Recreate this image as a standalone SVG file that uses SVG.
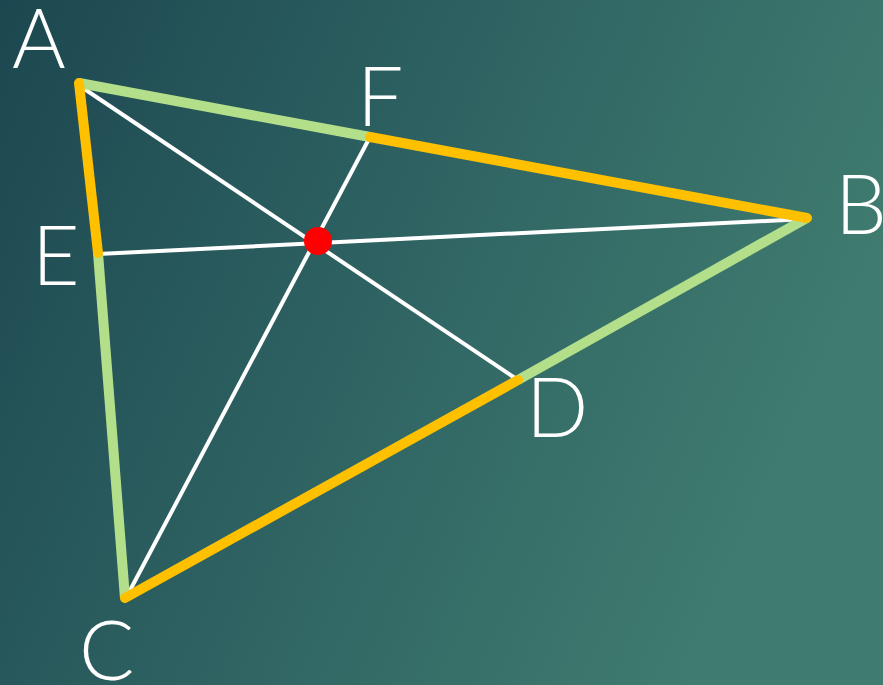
<svg xmlns="http://www.w3.org/2000/svg" width="883" height="685" viewBox="0 0 883 685">
<defs>
<linearGradient id="bg" x1="0" y1="0" x2="1" y2="0.35">
<stop offset="0" stop-color="#1c4750"/>
<stop offset="0.5" stop-color="#2e6262"/>
<stop offset="1" stop-color="#3f7b6f"/>
</linearGradient>
</defs>
<style>
.y{stroke:#FFC000;stroke-width:10;stroke-linecap:round;fill:none}
.g{stroke:#B4DF8A;stroke-width:10;stroke-linecap:butt;fill:none}
.w{stroke:#FFFFFF;stroke-width:4;fill:none}
.lbl{font-family:Lato,"Liberation Sans",sans-serif;font-weight:300;font-size:82px;fill:#FFFFFF}
</style>
<rect width="883" height="685" fill="url(#bg)"/>
<g id="connectors">
<line class="w" x1="80" y1="86" x2="518" y2="380"/>
<line class="w" x1="98" y1="254" x2="805" y2="219"/>
<line class="w" x1="127" y1="596" x2="370" y2="137"/>
<line class="g" x1="79" y1="83" x2="370" y2="137"/>
<line class="g" x1="98" y1="253" x2="125" y2="598"/>
<line class="g" x1="518" y1="380" x2="807" y2="218"/>
<line class="y" x1="79" y1="83" x2="98" y2="253"/>
<line class="y" x1="370" y1="137" x2="807" y2="218"/>
<line class="y" x1="125" y1="598" x2="518" y2="380"/>
</g>
<g id="centroid"><circle cx="318" cy="241" r="14" fill="#FF0000"/></g>
<g id="A"><text class="lbl" x="12" y="68">A</text></g>
<g id="F"><text class="lbl" x="357" y="126">F</text></g>
<g id="B"><text class="lbl" x="835" y="234">B</text></g>
<g id="E"><text class="lbl" x="32" y="285">E</text></g>
<g id="D"><text class="lbl" x="526" y="437">D</text></g>
<g id="C"><text class="lbl" x="79" y="680">C</text></g>
</svg>
